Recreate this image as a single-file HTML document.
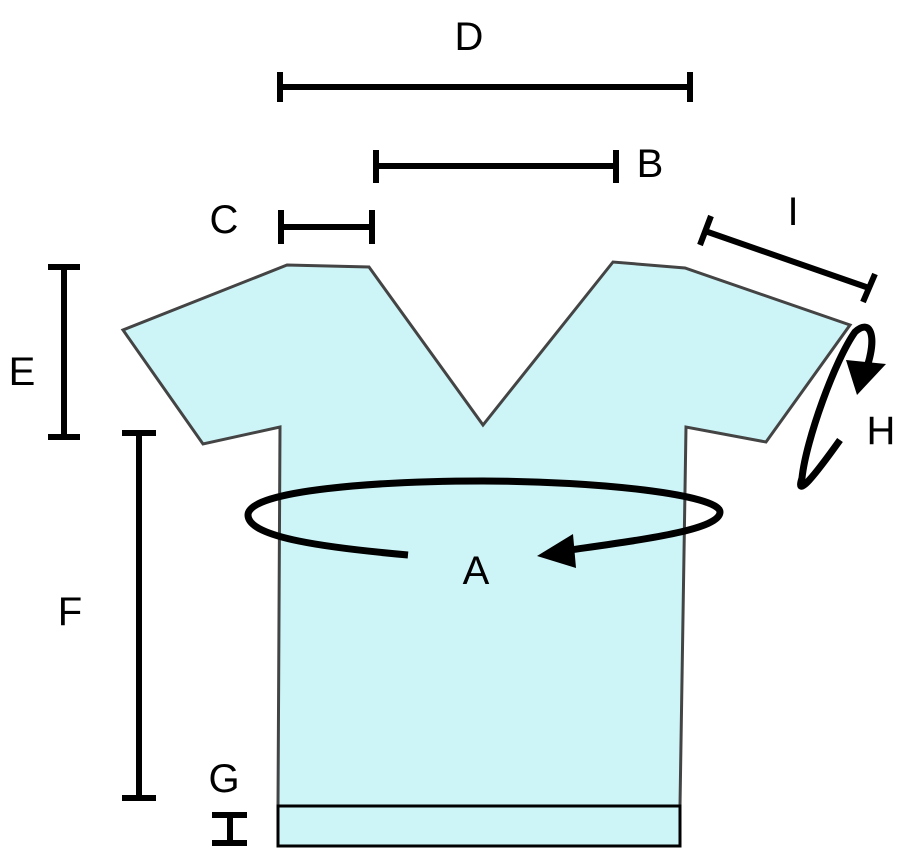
<!DOCTYPE html>
<html><head><style>html,body{margin:0;padding:0;background:#fff}svg{display:block}</style></head>
<body>
<svg width="913" height="855" viewBox="0 0 913 855" xmlns="http://www.w3.org/2000/svg" font-family="Liberation Sans, sans-serif" font-size="40">
<polygon points="287,265 369,267 483,425 613,262 685,268 850,325 766,442 686,427 680,806 278,806 280,427 203,444 123,330" fill="#cdf5f8" stroke="#444" stroke-width="3"/>
<rect x="278" y="806" width="402" height="40" fill="#cdf5f8" stroke="#000" stroke-width="3"/>
<g stroke="#000" stroke-width="6" fill="none">
<path d="M280,87H690M280,72V102M690,72V102"/>
<path d="M376,166H616M376,150V183M616,150V183"/>
<path d="M281,227H372M281,210V244M372,210V244"/>
<path d="M64,267V437M48,267H80M48,437H80"/>
<path d="M139,433V798M122,433H156M122,798H156"/>
<path d="M230,815V843M212,815H247M212,843H247"/>
<path d="M705,231L869,288M700,245L711,216M863,302L875,274"/>
</g>
<g stroke="#000" stroke-width="7" fill="none">
<path d="M408,555 C330,548 248,538 248,515 C248,490 380,481 483,481 C600,481 720,495 720,512 C720,530 640,540 570,550"/>
<path d="M840,440 C815,475 795,500 802,478 C806,440 835,360 855,332 C870,318 878,335 866,370"/>
</g>
<polygon points="537,556 573,534 576,568" fill="#000"/>
<polygon points="857,395 846,360 886,364" fill="#000"/>
<g text-anchor="middle">
<text x="469" y="50">D</text>
<text x="650" y="177">B</text>
<text x="224" y="233">C</text>
<text x="793" y="225">I</text>
<text x="22" y="385">E</text>
<text x="881" y="444">H</text>
<text x="476" y="584">A</text>
<text x="70" y="625">F</text>
<text x="224" y="792">G</text>
</g>
</svg>
</body></html>
